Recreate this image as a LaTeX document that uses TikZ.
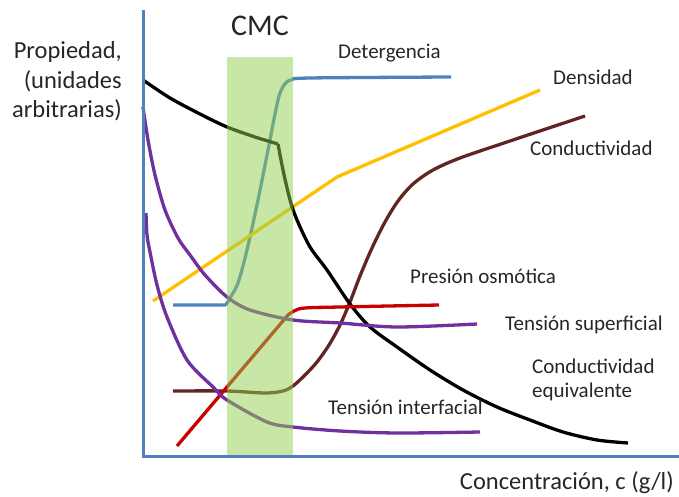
\documentclass[tikz,border=0pt]{standalone}
\usepackage{fontspec}
\setmainfont{Carlito}
\definecolor{axisblue}{RGB}{79,129,189}
\definecolor{cyellow}{RGB}{255,192,0}
\definecolor{cbrown}{RGB}{99,37,35}
\definecolor{cpurple}{RGB}{112,48,160}
\definecolor{cred}{RGB}{200,0,0}
\definecolor{cgreen}{RGB}{146,208,80}
\definecolor{ctext}{RGB}{38,38,38}
\begin{document}
\begin{tikzpicture}[x=1pt,y=-1pt,
  curve/.style={line width=3.3pt, line join=round},
  lbl/.style={inner sep=0pt, anchor=base west, text=ctext, font=\fontsize{21}{25}\selectfont},
  axlbl/.style={inner sep=0pt, text=ctext, font=\fontsize{24.5}{29}\selectfont}]
\useasboundingbox (0,0) rectangle (679,497);
% Detergencia
\draw[curve, axisblue] (173,305) -- (226,305)
  plot[smooth, tension=0.5] coordinates {(226,305) (230,298) (238,283) (247,250) (258,200) (268,150) (278,100) (284,85) (291,80) (310,78) (451,77)};
% Densidad
\draw[curve, cyellow] (153,301) -- (337,177) -- (540,90);
% Conductividad
\draw[curve, cbrown] plot[smooth, tension=0.5] coordinates {(173,391) (227,391) (265,393) (283,391) (293,386) (305,375) (317,362) (329,345) (340,325) (350,302) (360,276) (372,248) (385,222) (398,201) (413,184) (433,170) (460,158) (507,142) (585,116)};
% Conductividad equivalente
\draw[curve, black] plot[smooth, tension=0.5] coordinates {(143,80) (170,98) (200,114) (227,127) (255,137) (268,141) (278,144)}
  plot[smooth, tension=0.5] coordinates {(278,144) (283,170) (290,200) (297,220) (310,247) (327,270) (350,304) (370,327) (397,347) (430,370) (463,390) (497,407) (530,420) (563,432) (597,440) (628,443)};
% Presion osmotica
\draw[curve, cred] (177,446) -- (288,315)
  plot[smooth, tension=0.6] coordinates {(288,315) (294,311) (305,308) (340,307) (439,305)};
% Tension superficial
\draw[curve, cpurple] plot[smooth, tension=0.5] coordinates {(143,107) (148,140) (155,175) (165,210) (178,238) (190,255) (205,275) (227,297) (250,310) (293,320) (340,323) (397,327) (477,324)};
% Tension interfacial
\draw[curve, cpurple] plot[smooth, tension=0.5] coordinates {(146,213) (147,235) (150,252) (157,285) (167,317) (187,360) (213,387) (227,400) (267,422) (293,427) (340,431) (397,433) (480,432)};
% CMC band
\fill[cgreen, opacity=0.5] (227,57) rectangle (293,456);
% axes
\draw[line width=3pt, axisblue] (143,10) -- (143,456) coordinate (origin) -- (679,456);
% labels
\node[axlbl, anchor=base] (cmc) at (260,36) {\fontsize{30}{36}\selectfont CMC};
\node[axlbl, anchor=base east] (y1) at (122,59) {Propiedad,};
\node[axlbl, anchor=base east] (y2) at (122,89) {(unidades};
\node[axlbl, anchor=base east] (y3) at (122,118) {arbitrarias)};
\node[axlbl, anchor=base east] (xl) at (674,489) {Concentración, c (g/l)};
\node[lbl] (ldet) at (338,59) {Detergencia};
\node[lbl] (lden) at (553,85) {Densidad};
\node[lbl] (lcon) at (530,156) {Conductividad};
\node[lbl] (lpre) at (410,283) {Presión osmótica};
\node[lbl] (lsup) at (505,330) {Tensión superficial};
\node[lbl] (lceq1) at (532,373) {Conductividad};
\node[lbl] (lceq2) at (532,397) {equivalente};
\node[lbl] (lint) at (328,414) {Tensión interfacial};
\end{tikzpicture}
\end{document}
